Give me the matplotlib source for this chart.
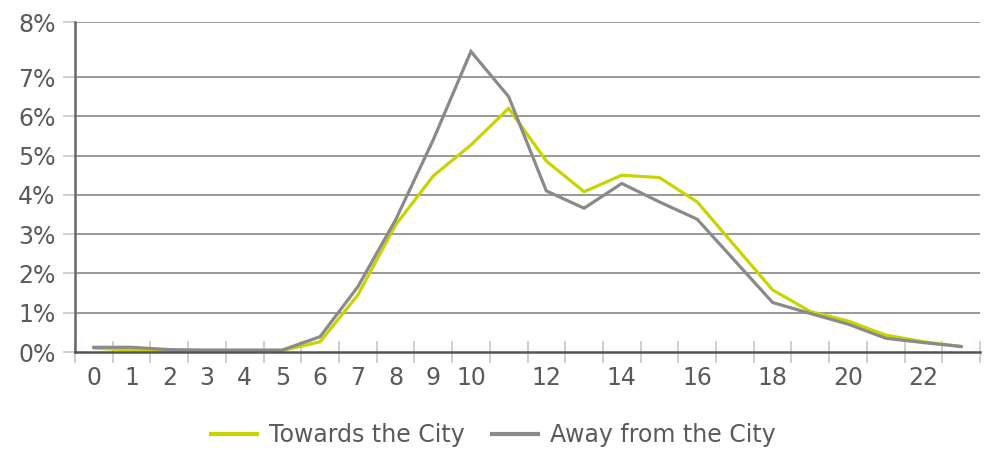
import matplotlib
matplotlib.use("Agg")
import matplotlib.pyplot as plt
import numpy as np

hours = list(range(24))
towards = [0.10, 0.05, 0.03, 0.03, 0.03, 0.04, 0.26, 1.45, 3.23, 4.48, 5.27, 6.20,
           4.86, 4.08, 4.50, 4.44, 3.82, 2.70, 1.58, 1.03, 0.79, 0.43, 0.26, 0.14]
away = [0.12, 0.12, 0.06, 0.05, 0.05, 0.05, 0.39, 1.66, 3.36, 5.40, 7.65, 6.50,
        4.10, 3.66, 4.29, 3.82, 3.38, 2.32, 1.26, 0.98, 0.71, 0.35, 0.24, 0.14]
xlabels = ["0", "1", "2", "3", "4", "5", "6", "7", "8", "9", "10",
           "12", "14", "16", "18", "20", "22"]
ylabels = ["0%", "1%", "2%", "3%", "4%", "5%", "6%", "7%", "8%"]

yellow = "#c8d400"
grey = "#8a8a8a"
txt = "#5a5a5a"

fig = plt.figure(figsize=(9.93, 4.5), dpi=100)
ax = fig.add_axes([75 / 993, 1 - 352 / 450, (980 - 75) / 993, (352 - 22) / 450])

ax.plot(hours, towards, color=yellow, lw=2.3, label="Towards the City", zorder=3,
        solid_joinstyle="miter")
ax.plot(hours, away, color=grey, lw=2.3, label="Away from the City", zorder=4,
        solid_joinstyle="miter")

ax.set_xlim(-0.5, 23.5)
ymax = 8.4
ax.set_ylim(0, ymax)

yt = [0, 1, 2, 3, 4, 5, 6, 7, ymax]
ax.set_yticks(yt)
ax.set_yticklabels(ylabels)
for y in yt[1:]:
    ax.axhline(y, color="#999999", lw=1.4, zorder=1)

xt = [int(l) for l in xlabels]
ax.set_xticks(xt)
ax.set_xticklabels(xlabels)
ax.set_xticks(np.arange(-0.5, 24, 1), minor=True)
ax.tick_params(axis="x", which="major", length=0, pad=10, labelsize=17, labelcolor=txt)
ax.tick_params(axis="x", which="minor", direction="inout", length=16, width=1.3, color="#cccccc")
ax.tick_params(axis="y", which="major", length=9, width=1.3, color="#cccccc", pad=5,
               labelsize=17, labelcolor=txt)

for s in ["top", "right"]:
    ax.spines[s].set_visible(False)
ax.spines["left"].set_color("#666666")
ax.spines["left"].set_linewidth(1.8)
ax.spines["bottom"].set_color("#555555")
ax.spines["bottom"].set_linewidth(1.8)
ax.spines["bottom"].set_zorder(5)

leg = fig.legend(loc="center", bbox_to_anchor=(0.497, 1 - 435 / 450), ncol=2, frameon=False,
                 fontsize=17, handlelength=1.95, handletextpad=0.5, columnspacing=1.15)
for t in leg.get_texts():
    t.set_color(txt)
for l in leg.get_lines():
    l.set_linewidth(3)

fig.savefig("out.png", dpi=100)
